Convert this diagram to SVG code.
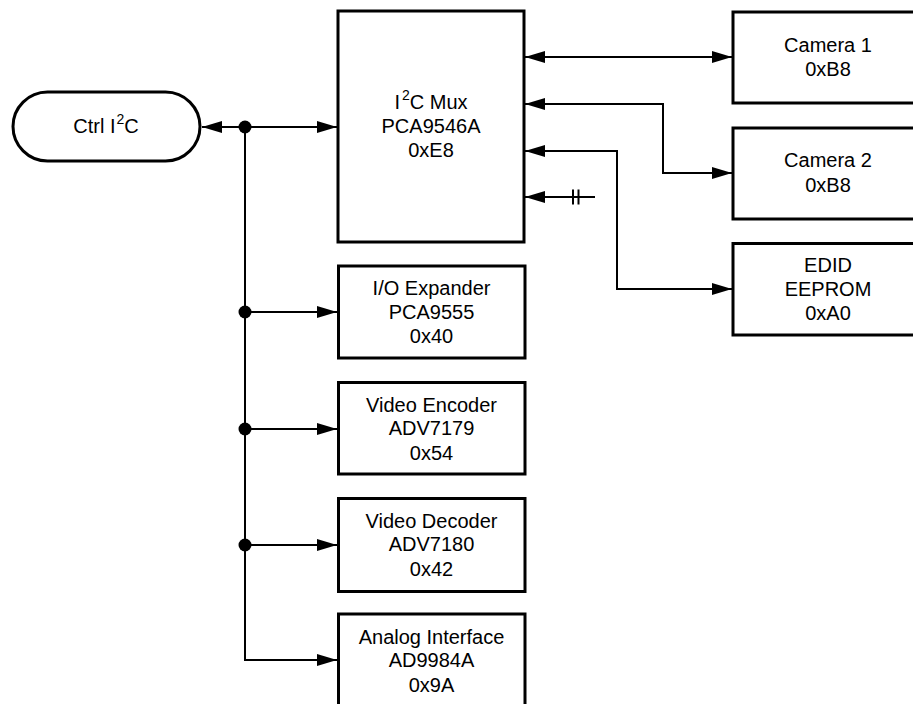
<svg xmlns="http://www.w3.org/2000/svg" width="913" height="704" viewBox="0 0 913 704">
<style>
.box{fill:#fff;stroke:#000;stroke-width:3}
.ln{fill:none;stroke:#000;stroke-width:2}
.t{font-family:"Liberation Sans",Arial,Helvetica,sans-serif;font-size:20px;fill:#000;text-anchor:middle}
</style>
<defs>
<marker id="ah" markerUnits="userSpaceOnUse" markerWidth="20" markerHeight="12" refX="20" refY="6" orient="auto-start-reverse" viewBox="0 0 20 12">
<path d="M0,0 L20,6 L0,12 z" fill="#000"/>
</marker>
</defs>
<rect width="913" height="704" fill="#fff"/>
<g id="connectors">
<line class="ln" x1="202" y1="127" x2="337" y2="127" marker-start="url(#ah)" marker-end="url(#ah)"/>
<polyline class="ln" points="245,127 245,660 337,660" marker-end="url(#ah)"/>
<line class="ln" x1="245" y1="312" x2="337" y2="312" marker-end="url(#ah)"/>
<line class="ln" x1="245" y1="429" x2="337" y2="429" marker-end="url(#ah)"/>
<line class="ln" x1="245" y1="545" x2="337" y2="545" marker-end="url(#ah)"/>
<circle cx="245" cy="127" r="6.5" fill="#000"/>
<circle cx="245" cy="312" r="6.5" fill="#000"/>
<circle cx="245" cy="429" r="6.5" fill="#000"/>
<circle cx="245" cy="545" r="6.5" fill="#000"/>
<line class="ln" x1="525" y1="57" x2="732" y2="57" marker-start="url(#ah)" marker-end="url(#ah)"/>
<polyline class="ln" points="525,104 663,104 663,173 732,173" marker-start="url(#ah)" marker-end="url(#ah)"/>
<polyline class="ln" points="525,151 617,151 617,289 732,289" marker-start="url(#ah)" marker-end="url(#ah)"/>
<line class="ln" x1="525" y1="197" x2="595" y2="197" marker-start="url(#ah)"/>
<line class="ln" x1="573" y1="189.5" x2="573" y2="204.5"/>
<line class="ln" x1="578.5" y1="189.5" x2="578.5" y2="204.5"/>
</g>
<g id="ctrl">
<rect class="box" x="13" y="92" width="187" height="69" rx="34.5"/>
<text class="t" x="106" y="133">Ctrl I<tspan font-size="14" dy="-9" dx="1">2</tspan><tspan dy="9">C</tspan></text>
</g>
<g id="mux">
<rect class="box" x="338" y="11" width="186" height="231"/>
<text class="t" x="431" y="109">I<tspan font-size="14" dy="-9" dx="2">2</tspan><tspan dy="9">C Mux</tspan></text>
<text class="t" x="431" y="133">PCA9546A</text>
<text class="t" x="431" y="157">0xE8</text>
</g>
<g id="camera1">
<rect class="box" x="733" y="12" width="192" height="91"/>
<text class="t" x="828" y="52">Camera 1</text>
<text class="t" x="828" y="76">0xB8</text>
</g>
<g id="camera2">
<rect class="box" x="733" y="128" width="192" height="91"/>
<text class="t" x="828" y="167">Camera 2</text>
<text class="t" x="828" y="192">0xB8</text>
</g>
<g id="edid">
<rect class="box" x="733" y="243.5" width="192" height="91.5"/>
<text class="t" x="828" y="272">EDID</text>
<text class="t" x="828" y="295.5">EEPROM</text>
<text class="t" x="828" y="319.5">0xA0</text>
</g>
<g id="ioexp">
<rect class="box" x="338.5" y="266" width="186.5" height="92"/>
<text class="t" x="431.5" y="295">I/O Expander</text>
<text class="t" x="431.5" y="318.5">PCA9555</text>
<text class="t" x="431.5" y="343">0x40</text>
</g>
<g id="venc">
<rect class="box" x="338.5" y="382.5" width="186.5" height="91.5"/>
<text class="t" x="431.5" y="411.5">Video Encoder</text>
<text class="t" x="431.5" y="435">ADV7179</text>
<text class="t" x="431.5" y="459.5">0x54</text>
</g>
<g id="vdec">
<rect class="box" x="338.5" y="498.5" width="186.5" height="93"/>
<text class="t" x="431.5" y="527.5">Video Decoder</text>
<text class="t" x="431.5" y="551">ADV7180</text>
<text class="t" x="431.5" y="575.5">0x42</text>
</g>
<g id="analog">
<rect class="box" x="338.5" y="614" width="186.5" height="95"/>
<text class="t" x="431.5" y="643.5">Analog Interface</text>
<text class="t" x="431.5" y="667">AD9984A</text>
<text class="t" x="431.5" y="692">0x9A</text>
</g>
</svg>
